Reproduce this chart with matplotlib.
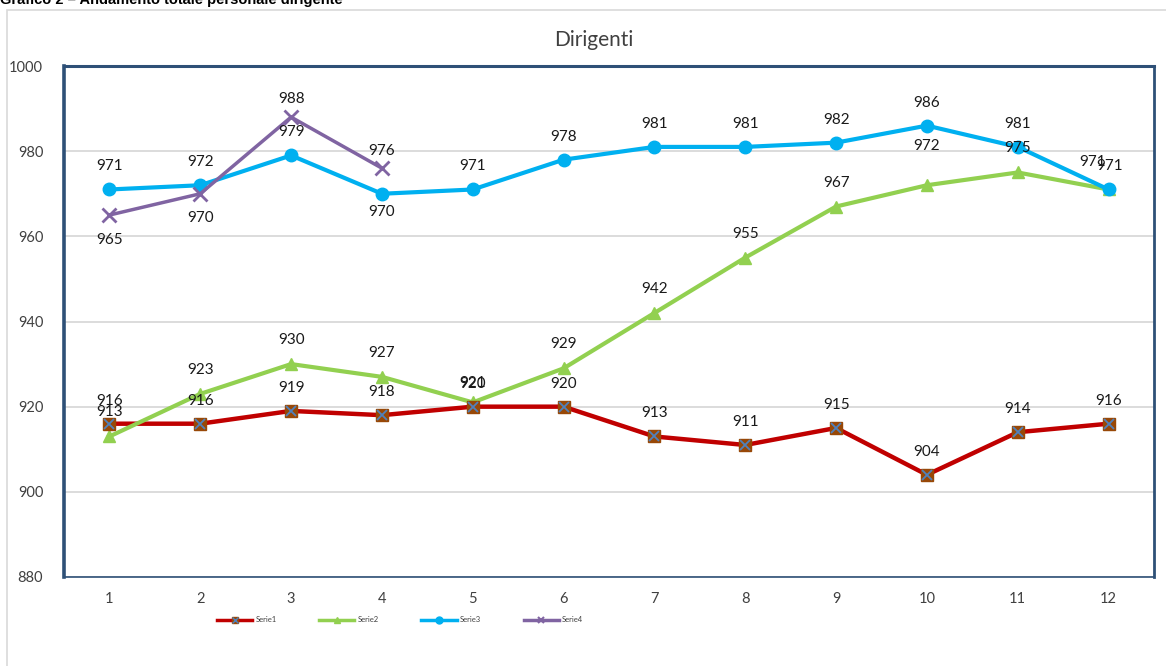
import matplotlib
matplotlib.use('Agg')
import matplotlib.pyplot as plt
from matplotlib.lines import Line2D
from matplotlib.patches import Rectangle
from matplotlib.legend_handler import HandlerTuple

# Data
mesi = [1, 2, 3, 4, 5, 6, 7, 8, 9, 10, 11, 12]
serie1 = [916, 916, 919, 918, 920, 920, 913, 911, 915, 904, 914, 916]
serie2 = [913, 923, 930, 927, 921, 929, 942, 955, 967, 972, 975, 971]
serie3 = [971, 972, 979, 970, 971, 978, 981, 981, 982, 986, 981, 971]
serie4 = [965, 970, 988, 976]
nomi = ['Serie1', 'Serie2', 'Serie3', 'Serie4']
y_ticks = [880, 900, 920, 940, 960, 980, 1000]

# label offsets (pixels): default per series, plus a few exceptions
lab_default = {'Serie1': (0, 23), 'Serie2': (0, 24), 'Serie3': (0, 23), 'Serie4': (0, 18)}
lab_extra = {
    ('Serie2', 4): (0, 19),
    ('Serie2', 9): (0, 39),
    ('Serie2', 11): (-16, 27),
    ('Serie3', 3): (0, -18),
    ('Serie3', 11): (1, 23),
    ('Serie4', 0): (0, -25),
    ('Serie4', 1): (0, -24),
    ('Serie4', 3): (0, 17),
}

plt.rcParams['font.family'] = ['Lato', 'DejaVu Sans']

fig = plt.figure(figsize=(11.66, 6.66), dpi=100)
ax = fig.add_axes([64 / 1166, 1 - 577 / 666, (1154 - 64) / 1166, (577 - 66) / 666])

# outer chart frame and page heading
fig.patches.append(Rectangle((7 / 1166, -0.1), 1.2, 1.1 - 10 / 666, transform=fig.transFigure,
                             fill=False, edgecolor='#D9D9D9', lw=1.2))
fig.text(0.0, 1 - 4 / 666, 'Grafico 2 \u2013 Andamento totale personale dirigente',
         family='Liberation Sans', weight='bold', fontsize=10.5, va='baseline', ha='left')

red = '#C00000'
green = '#92D050'
blue = '#00B0F0'
purple = '#8064A2'
brown = '#984807'
xblue = '#4F81BD'

ax.plot(mesi, serie1, color=red, lw=3.2, zorder=3)
ax.plot(mesi, serie1, ls='none', marker='s', ms=8.5, mfc=brown, mec=brown, zorder=4)
ax.plot(mesi, serie1, ls='none', marker='x', ms=7, mec=xblue, mew=1.3, zorder=5)
ax.plot(mesi, serie2, color=green, lw=3, marker='^', ms=9, mfc=green, mec=green, zorder=3)
ax.plot(mesi, serie3, color=blue, lw=3, marker='o', ms=9, mfc=blue, mec=blue, zorder=3)
ax.plot(mesi[:len(serie4)], serie4, color=purple, lw=2.5, marker='x', ms=10, mew=2,
        mec=purple, zorder=6)

for nome, vals in zip(nomi, [serie1, serie2, serie3, serie4]):
    for i, v in enumerate(vals):
        dx, dy = lab_extra.get((nome, i), lab_default[nome])
        ax.annotate(str(v), (mesi[i], v), xytext=(dx, dy), textcoords='offset pixels',
                    ha='center', va='center', fontsize=11, color='#1a1a1a', zorder=7)

ax.set_xlim(0.5, 12.5)
ax.set_ylim(880, 1000)
ax.set_xticks(mesi)
ax.set_yticks(y_ticks)
ax.tick_params(axis='both', length=0, labelsize=10.5, colors='#404040')
ax.tick_params(axis='y', pad=15)
ax.tick_params(axis='x', pad=11)
ax.grid(axis='y', color='#D9D9D9', lw=1.3, zorder=0)
ax.set_axisbelow(True)

frame = '#2E5077'
ax.spines['left'].set_linewidth(2.6)
ax.spines['top'].set_linewidth(2.2)
ax.spines['right'].set_linewidth(2.0)
ax.spines['bottom'].set_linewidth(1.2)
for s in ax.spines.values():
    s.set_color(frame)

fig.text(594 / 1166, 1 - 40 / 666, 'Dirigenti', ha='center', va='center',
         fontsize=15, color='#404040')

# legend
h1 = (Line2D([], [], color=red, lw=2.5),
      Line2D([], [], ls='none', marker='s', ms=5, mfc=brown, mec=brown),
      Line2D([], [], ls='none', marker='x', ms=4, mec=xblue, mew=1))
h2 = Line2D([], [], color=green, lw=2.5, marker='^', ms=5, mfc=green, mec=green)
h3 = Line2D([], [], color=blue, lw=2.5, marker='o', ms=5, mfc=blue, mec=blue)
h4 = Line2D([], [], color=purple, lw=2.5, marker='x', ms=5, mew=1.5, mec=purple)
fig.legend([h1, h2, h3, h4], nomi, loc='center', bbox_to_anchor=(400 / 1166, 1 - 620 / 666),
           ncol=4, frameon=False, fontsize=5.5, handlelength=4.6, handletextpad=0.4,
           columnspacing=5.6, labelcolor='#404040',
           handler_map={tuple: HandlerTuple(ndivide=1, pad=0)})

fig.savefig('out.png', dpi=100)
